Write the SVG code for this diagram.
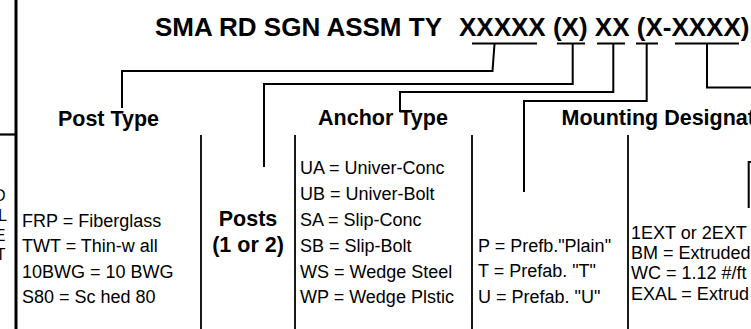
<svg xmlns="http://www.w3.org/2000/svg" width="751" height="329" viewBox="0 0 751 329">
<style>
text{font-family:"Liberation Sans",Arial,sans-serif;fill:#000}
.t{font-size:26px;font-weight:bold}
.h{font-size:21.5px;font-weight:bold}
.b{font-size:18px}
.f{font-size:16px}
.ln{stroke:#000;stroke-width:2;fill:none}
.sep{stroke:#000;stroke-width:1.8;fill:none}
</style>
<rect width="751" height="329" fill="#fff"/>
<g id="frame">
<line x1="16" y1="0" x2="16" y2="329" stroke="#000" stroke-width="3"/>
<line x1="0" y1="134.5" x2="16" y2="134.5" stroke="#000" stroke-width="2.2"/>
<text class="f" x="5.5" y="201" text-anchor="end">D</text>
<text class="f" x="-2" y="221">L</text>
<text class="f" x="5.5" y="241" text-anchor="end">E</text>
<text class="f" x="5.5" y="260" text-anchor="end">T</text>
</g>
<g id="title">
<text class="t" x="155" y="36">SMA RD SGN ASSM TY</text>
<text class="t" x="459" y="36" xml:space="preserve">XXXXX (X) XX (X-XXXX)</text>
<g class="ln">
<line x1="472" y1="43.5" x2="537" y2="43.5"/>
<line x1="557" y1="43.5" x2="585" y2="43.5"/>
<line x1="597" y1="43.5" x2="625" y2="43.5"/>
<line x1="636" y1="43.5" x2="658" y2="43.5"/>
<line x1="675" y1="43.5" x2="739" y2="43.5"/>
</g>
</g>
<g id="connectors" class="ln">
<path d="M494.5,44 L492.5,71 L122,71 L122,108"/>
<path d="M572.7,44 L572.7,84 L264,84 L264,167"/>
<path d="M613.3,44 L613.3,92 L400,92 L400,112"/>
<path d="M646.7,44 L646.7,101 L524,101 L524,192"/>
<path d="M707,44 L707,87.5 L751,87.5"/>
<path d="M751,162 L748.7,162 L748.7,208"/>
</g>
<g id="separators" class="sep">
<line x1="201" y1="135" x2="201" y2="329"/>
<line x1="295" y1="135" x2="295" y2="329"/>
<line x1="472" y1="135" x2="472" y2="329"/>
<line x1="628" y1="135" x2="628" y2="329"/>
</g>
<g id="post-type">
<text class="h" x="108.5" y="126" text-anchor="middle">Post Type</text>
<text class="b" x="22" y="227">FRP = Fiberglass</text>
<text class="b" x="22" y="252">TWT = Thin-w all</text>
<text class="b" x="22" y="278">10BWG = 10 BWG</text>
<text class="b" x="22" y="303">S80 = Sc hed 80</text>
</g>
<g id="posts">
<text class="h" x="248" y="226" text-anchor="middle">Posts</text>
<text class="h" x="248" y="252" text-anchor="middle">(1 or 2)</text>
</g>
<g id="anchor-type">
<text class="h" x="383" y="125" text-anchor="middle">Anchor Type</text>
<text class="b" x="300" y="174">UA = Univer-Conc</text>
<text class="b" x="300" y="200">UB = Univer-Bolt</text>
<text class="b" x="300" y="226">SA = Slip-Conc</text>
<text class="b" x="300" y="252">SB = Slip-Bolt</text>
<text class="b" x="300" y="278">WS = Wedge Steel</text>
<text class="b" x="300" y="303">WP = Wedge Plstic</text>
</g>
<g id="mounting">
<text class="h" x="561.5" y="125">Mounting Designation</text>
<text class="b" x="478" y="252">P = Prefb."Plain"</text>
<text class="b" x="478" y="277">T = Prefab. "T"</text>
<text class="b" x="478" y="303">U = Prefab. "U"</text>
</g>
<g id="mounting-ext">
<text class="b" x="631" y="239">1EXT or 2EXT</text>
<text class="b" x="631" y="259">BM = Extruded</text>
<text class="b" x="631" y="279">WC = 1.12 #/ft</text>
<text class="b" x="631" y="300">EXAL = Extrud</text>
</g>
</svg>
